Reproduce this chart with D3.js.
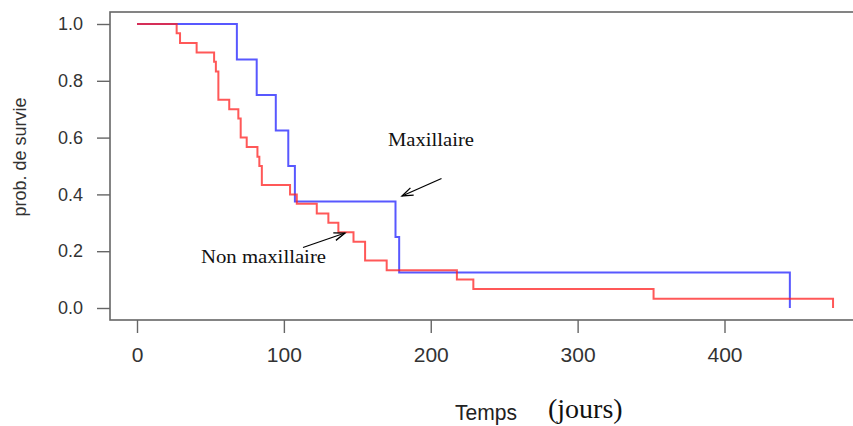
<!DOCTYPE html>
<html>
<head>
<meta charset="utf-8">
<script src="https://cdn.jsdelivr.net/npm/d3@7"></script>
<style>
  body { margin: 0; background: #fff; }
  svg { display: block; }
</style>
</head>
<body>
<div id="chart"></div>
<script>
// Kaplan-Meier step data (time in days, survival probability)
const maxTimes = [0, 68, 81.5, 94.5, 103, 107.5, 176, 178.5, 444.5];
const maxSurv = [1, 0.875, 0.75, 0.625, 0.5, 0.375, 0.25, 0.125, 0];

const nonMaxTimes = [0, 27, 29.3, 40.6, 52.5, 53.7, 55.4, 62.8, 69, 70.6, 74.7, 82, 83.3, 85,
  104.2, 108.8, 122.4, 130.3, 137.1, 147.4, 155.3, 170, 217.8, 229, 351.7, 473.9];
const nonMaxSurv = [1, 0.967, 0.933, 0.9, 0.867, 0.833, 0.733, 0.7, 0.667, 0.6, 0.567, 0.533, 0.5, 0.433,
  0.4, 0.367, 0.333, 0.3, 0.267, 0.233, 0.167, 0.133, 0.1, 0.067, 0.033, 0];

const xTicks = [0, 100, 200, 300, 400];
const yTicks = [0, 0.2, 0.4, 0.6, 0.8, 1.0];

const width = 853, height = 426;
const box = { left: 110, top: 12, right: 853, bottom: 320 };

const svg = d3.select("#chart")
  .append("svg")
  .attr("width", width)
  .attr("height", height);

// scales
const x = d3.scaleLinear().domain([0, 400]).range([137, 724.5]);
const y = d3.scaleLinear().domain([0, 1]).range([308, 24]);

// plot box
svg.append("rect")
  .attr("x", box.left)
  .attr("y", box.top)
  .attr("width", box.right - box.left + 5)
  .attr("height", box.bottom - box.top)
  .attr("fill", "none")
  .attr("stroke", "#666")
  .attr("stroke-width", 1.6);

// axes
const xAxis = d3.axisBottom(x).tickValues(xTicks).tickSize(13).tickPadding(14)
  .tickFormat(d3.format("d"));
const gx = svg.append("g")
  .attr("transform", "translate(0," + box.bottom + ")")
  .call(xAxis);
gx.select(".domain").remove();
gx.selectAll("line").attr("stroke", "#666").attr("stroke-width", 1.4);
gx.selectAll("text")
  .attr("fill", "#333")
  .style("font-family", "'Liberation Sans', Arial, sans-serif")
  .style("font-size", "21px");

const yAxis = d3.axisLeft(y).tickValues(yTicks).tickSize(13).tickPadding(14)
  .tickFormat(d3.format(".1f"));
const gy = svg.append("g")
  .attr("transform", "translate(" + box.left + ",0)")
  .call(yAxis);
gy.select(".domain").remove();
gy.selectAll("line").attr("stroke", "#666").attr("stroke-width", 1.4);
gy.selectAll("text")
  .attr("fill", "#333")
  .style("font-family", "'Liberation Sans', Arial, sans-serif")
  .style("font-size", "18px");

// axis titles
svg.append("text")
  .attr("transform", "translate(26,157) rotate(-90)")
  .attr("text-anchor", "middle")
  .attr("fill", "#333")
  .style("font-family", "'Liberation Sans', Arial, sans-serif")
  .style("font-size", "18px")
  .text("prob. de survie");

svg.append("text")
  .attr("x", 455)
  .attr("y", 420)
  .attr("fill", "#222")
  .attr("textLength", 62)
  .attr("lengthAdjust", "spacingAndGlyphs")
  .style("font-family", "'Liberation Sans', Arial, sans-serif")
  .style("font-size", "22px")
  .text("Temps");

svg.append("text")
  .attr("x", 548)
  .attr("y", 418)
  .attr("fill", "#111")
  .style("font-family", "'Liberation Serif', 'Times New Roman', serif")
  .style("font-size", "28px")
  .text("(jours)");

// survival curves
const line = d3.line()
  .x(function(d) { return x(d[0]); })
  .y(function(d) { return y(d[1]); })
  .curve(d3.curveStepAfter);

const maxData = maxTimes.map(function(t, i) { return [t, maxSurv[i]]; });
const nonMaxData = nonMaxTimes.map(function(t, i) { return [t, nonMaxSurv[i]]; });

svg.append("path")
  .datum(maxData)
  .attr("d", line)
  .attr("fill", "none")
  .attr("stroke", "#2020ff")
  .attr("stroke-opacity", 0.75)
  .attr("stroke-width", 2);

svg.append("path")
  .datum(nonMaxData)
  .attr("d", line)
  .attr("fill", "none")
  .attr("stroke", "#ff2020")
  .attr("stroke-opacity", 0.75)
  .attr("stroke-width", 2);

// annotations
svg.append("defs").append("marker")
  .attr("id", "arrow")
  .attr("viewBox", "-12 -6 14 12")
  .attr("refX", 0)
  .attr("refY", 0)
  .attr("markerWidth", 14)
  .attr("markerHeight", 12)
  .attr("markerUnits", "userSpaceOnUse")
  .attr("orient", "auto")
  .append("path")
  .attr("d", "M-11,-4 L0,0 L-11,4")
  .attr("fill", "none")
  .attr("stroke", "#000")
  .attr("stroke-width", 1.3);

svg.append("line")
  .attr("x1", 441.5).attr("y1", 178.5)
  .attr("x2", 402).attr("y2", 196)
  .attr("stroke", "#000")
  .attr("stroke-width", 1.3)
  .attr("marker-end", "url(#arrow)");

svg.append("line")
  .attr("x1", 303).attr("y1", 247.5)
  .attr("x2", 345).attr("y2", 233)
  .attr("stroke", "#000")
  .attr("stroke-width", 1.3)
  .attr("marker-end", "url(#arrow)");

svg.append("text")
  .attr("x", 388)
  .attr("y", 146)
  .attr("textLength", 86)
  .attr("lengthAdjust", "spacingAndGlyphs")
  .attr("fill", "#111")
  .style("font-family", "'Liberation Serif', 'Times New Roman', serif")
  .style("font-size", "19px")
  .text("Maxillaire");

svg.append("text")
  .attr("x", 201)
  .attr("y", 263)
  .attr("textLength", 125)
  .attr("lengthAdjust", "spacingAndGlyphs")
  .attr("fill", "#111")
  .style("font-family", "'Liberation Serif', 'Times New Roman', serif")
  .style("font-size", "19px")
  .text("Non maxillaire");
</script>
</body>
</html>
